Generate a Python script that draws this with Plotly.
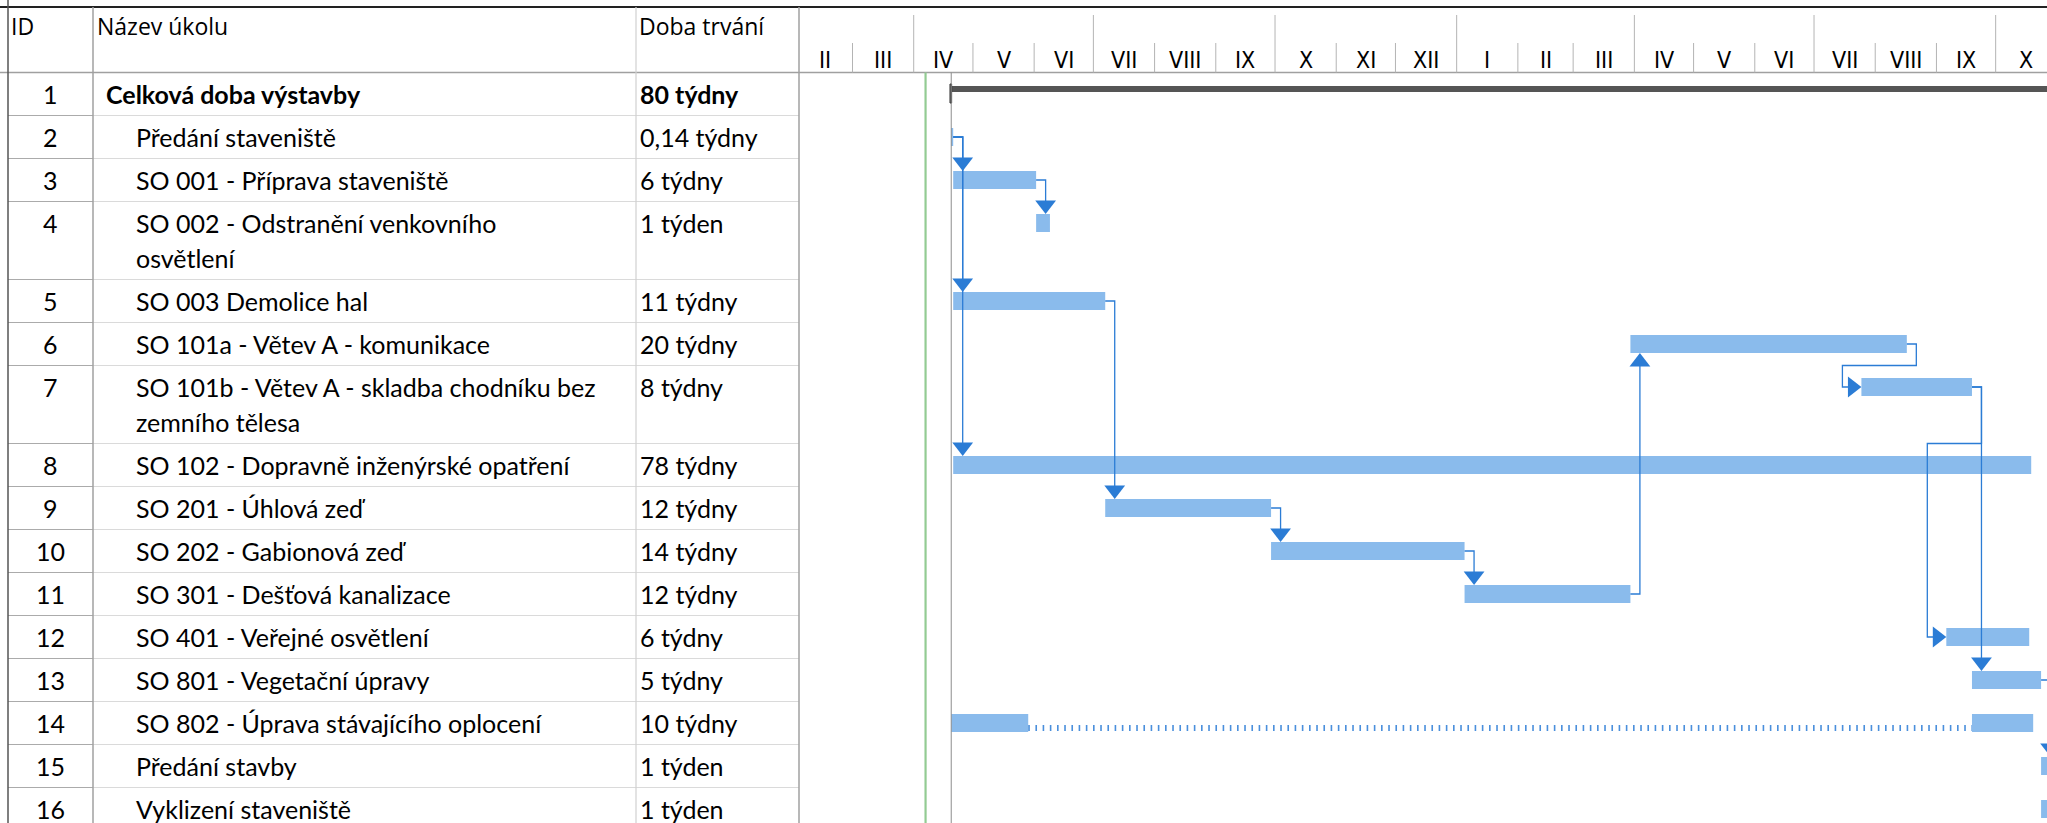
import plotly.graph_objects as go
import pandas as pd

# ---------------- data ----------------
task_ids = list(range(1, 17))
task_names = [
    "Celková doba výstavby",
    "Předání staveniště",
    "SO 001 - Příprava staveniště",
    "SO 002 - Odstranění venkovního\nosvětlení",
    "SO 003 Demolice hal",
    "SO 101a - Větev A - komunikace",
    "SO 101b - Větev A - skladba chodníku bez\nzemního tělesa",
    "SO 102 - Dopravně inženýrské opatření",
    "SO 201 - Úhlová zeď",
    "SO 202 - Gabionová zeď",
    "SO 301 - Dešťová kanalizace",
    "SO 401 - Veřejné osvětlení",
    "SO 801 - Vegetační úpravy",
    "SO 802 - Úprava stávajícího oplocení",
    "Předání stavby",
    "Vyklizení staveniště",
]
task_durations = ["80 týdny", "0,14 týdny", "6 týdny", "1 týden", "11 týdny", "20 týdny",
                  "8 týdny", "78 týdny", "12 týdny", "14 týdny", "12 týdny", "6 týdny",
                  "5 týdny", "10 týdny", "1 týden", "1 týden"]
task_starts = ["2026-04-20", "2026-04-20", "2026-04-21", "2026-06-02", "2026-04-21", "2027-03-30",
               "2027-07-25", "2026-04-21", "2026-07-07", "2026-09-29", "2027-01-05", "2027-09-06",
               "2027-09-19", None, "2027-10-24", "2027-10-24"]
task_days = [560, 1, 42, 7, 77, 140, 56, 546, 84, 98, 84, 42, 35, None, 7, 7]
summary_task = 1
split_task = 14
split_starts = ["2026-04-20", "2027-09-19"]
split_days = [39, 31]
links = [(2, 3), (2, 5), (2, 8), (3, 4), (5, 9), (9, 10), (10, 11), (11, 6),
         (6, 7), (7, 12), (7, 13), (13, 15)]
status_date = "2026-04-07"
project_start = "2026-04-20"
month_labels = ["I", "II", "III", "IV", "V", "VI", "VII", "VIII", "IX", "X", "XI", "XII"]
x_range = ["2026-02-01 21:36", "2027-10-27 00:00"]
header_labels = ["ID", "Název úkolu", "Doba trvání"]

# ---------------- layout constants ----------------
W, H = 2047, 823
TOP_LINE = 7
HEAD_BOT = 72.5
ROW_H = 43
LINE_H = 35
X_BORDER, X_ID, X_NAME, X_CHART = 8, 93, 636, 799
BAR_W = 18
BAR_OFF = 21.5
FONT = "Lato"
ROW_FS = 25
BAR_COLOR = "#8ABBEC"
LINK_COLOR = "#2B7CD5"
NARROW = "Liberation Sans Narrow, DejaVu Sans Condensed, Roboto Condensed, Liberation Sans"


def px(v):
    return v / W


row_lines = [len(n.split("\n")) for n in task_names]
row_top = []
y = HEAD_BOT
for n in row_lines:
    row_top.append(y)
    y += ROW_H + (n - 1) * LINE_H
row_bottom = [t + ROW_H + (n - 1) * LINE_H for t, n in zip(row_top, row_lines)]
bar_c = [t + BAR_OFF for t in row_top]

r0, r1 = pd.Timestamp(x_range[0]), pd.Timestamp(x_range[1])
PX_PER_DAY = (W - X_CHART) / ((r1 - r0).total_seconds() / 86400)


def shift(ts, pixels):
    return pd.Timestamp(ts) + pd.Timedelta(days=pixels / PX_PER_DAY)


fig = go.Figure()

# ---------------- task bars ----------------
bar_base, bar_len, bar_y = [], [], []
for i, tid in enumerate(task_ids):
    if tid == summary_task or tid == split_task:
        continue
    bar_base.append(task_starts[i])
    bar_len.append(task_days[i] * 86400000)
    bar_y.append(bar_c[i])
si = task_ids.index(split_task)
for s, d in zip(split_starts, split_days):
    bar_base.append(s)
    bar_len.append(d * 86400000)
    bar_y.append(bar_c[si])

fig.add_trace(go.Bar(orientation="h", base=bar_base, x=bar_len, y=bar_y, width=BAR_W,
                     marker=dict(color=BAR_COLOR, line=dict(width=0)), hoverinfo="skip",
                     showlegend=False))

# split dotted line
seg_end = pd.Timestamp(split_starts[0]) + pd.Timedelta(days=split_days[0])
fig.add_trace(go.Scatter(x=[seg_end, pd.Timestamp(split_starts[1])],
                         y=[bar_c[si] + 5, bar_c[si] + 5], mode="lines",
                         line=dict(color="#4A8FDC", width=6, dash="1.6px,5.6px"),
                         hoverinfo="skip", showlegend=False))

# summary bar
mi = task_ids.index(summary_task)
fig.add_trace(go.Bar(orientation="h", base=[task_starts[mi]], x=[task_days[mi] * 86400000],
                     y=[row_top[mi] + 16.5], width=6, marker=dict(color="#555555", line=dict(width=0)),
                     hoverinfo="skip", showlegend=False))
fig.add_trace(go.Bar(orientation="h", base=[shift(task_starts[mi], -1.2)],
                     x=[1.6 / PX_PER_DAY * 86400000],
                     y=[row_top[mi] + 21], width=19,
                     marker=dict(color="#6a6a6a", line=dict(width=1, color="#222222")),
                     hoverinfo="skip", showlegend=False))

# ---------------- links ----------------
lx, ly = [], []
ax, ay, asym = [], [], []
R = 9  # marker radius in px
for p, s in links:
    pi, sj = task_ids.index(p), task_ids.index(s)
    p_end = pd.Timestamp(task_starts[pi]) + pd.Timedelta(days=task_days[pi])
    s_start = pd.Timestamp(task_starts[sj])
    yp = bar_c[pi]
    if s_start >= p_end - pd.Timedelta(hours=12):
        xv = shift(p_end, 9.5)
        if sj > pi:
            yt = bar_c[sj] - BAR_W / 2
            lx += [p_end, xv, xv, None]
            ly += [yp, yp, yt - R, None]
            ax.append(xv); ay.append(yt - R); asym.append("triangle-down")
        else:
            yb = bar_c[sj] + BAR_W / 2
            lx += [p_end, xv, xv, None]
            ly += [yp, yp, yb + R, None]
            ax.append(xv); ay.append(yb + R); asym.append("triangle-up")
    else:
        xv = shift(p_end, 9.5)
        xl = shift(s_start, -19)
        xa = shift(s_start, -R)
        lx += [p_end, xv, xv, xl, xl, xa, None]
        ly += [yp, yp, row_bottom[pi], row_bottom[pi], bar_c[sj], bar_c[sj], None]
        ax.append(xa); ay.append(bar_c[sj]); asym.append("triangle-right")

fig.add_trace(go.Scatter(x=lx, y=ly, mode="lines", line=dict(color=LINK_COLOR, width=1.3),
                         hoverinfo="skip", showlegend=False))
fig.add_trace(go.Scatter(x=ax, y=ay, mode="markers",
                         marker=dict(symbol=asym, size=2 * R, color=LINK_COLOR, line=dict(width=0)),
                         hoverinfo="skip", showlegend=False))

# ---------------- shapes ----------------
shapes = []


def pline(x0, y0, x1, y1, color, width=1, xref="paper"):
    shapes.append(dict(type="line", xref=xref, yref="y", x0=x0, y0=y0, x1=x1, y1=y1,
                       line=dict(color=color, width=width), layer="above"))


# row lines
for b in row_bottom:
    pline(px(X_BORDER), b, px(X_ID), b, "#ABABAB", 1)
    pline(px(X_ID), b, px(X_CHART), b, "#DADADA", 1)
# header bottom, top line
pline(0, HEAD_BOT, 1, HEAD_BOT, "#A0A0A0", 1.5)
pline(0, TOP_LINE, 1, TOP_LINE, "#222222", 2)
# vertical table lines
pline(px(X_BORDER), 0, px(X_BORDER), H, "#555555", 1.5)
pline(px(X_ID), TOP_LINE, px(X_ID), H, "#A0A0A0", 1.5)
pline(px(X_NAME), TOP_LINE, px(X_NAME), H, "#D0D0D0", 1.2)
pline(px(X_CHART), TOP_LINE, px(X_CHART), H, "#A0A0A0", 1.5)

# timescale dividers
months = pd.date_range(r0.normalize() + pd.offsets.MonthBegin(0), r1, freq="MS")
for m in months:
    if m <= r0:
        continue
    if m.month in (1, 4, 7, 10):
        pline(m, 15, m, HEAD_BOT, "#B4B4B4", 1, xref="x")
    else:
        pline(m, 43, m, HEAD_BOT, "#B4B4B4", 1, xref="x")

# status line and project start line
pline(pd.Timestamp(status_date), HEAD_BOT, pd.Timestamp(status_date), H, "#93CB93", 2.2, xref="x")
pline(pd.Timestamp(project_start), HEAD_BOT, pd.Timestamp(project_start), H, "#8C8C8C", 1, xref="x")

# ---------------- annotations ----------------
ann = []


def text(x, yv, t, size=ROW_FS, bold=False, anchor="left", family=FONT, color="#000000", xref="paper"):
    ann.append(dict(x=x, y=yv, xref=xref, yref="y", text=("<b>%s</b>" % t) if bold else t,
                    showarrow=False, xanchor=anchor, yanchor="middle",
                    font=dict(family=family, size=size, color=color)))


# header
text(px(X_BORDER + 1), 26, header_labels[0], size=23, family="Open Sans")
text(px(X_ID + 2), 26, header_labels[1], size=23, family="Open Sans")
text(px(X_NAME + 1), 26, header_labels[2], size=23, family="Open Sans")

# month labels
for m in pd.date_range(r0.normalize() + pd.offsets.MonthBegin(0) - pd.offsets.MonthBegin(1), r1, freq="MS"):
    mid = m + (m + pd.offsets.MonthBegin(1) - m) / 2
    if mid < r0 or mid > r1:
        continue
    text(mid, 60, month_labels[m.month - 1], size=23, anchor="center", family=NARROW, xref="x")

# rows
for i, tid in enumerate(task_ids):
    yc = row_top[i] + BAR_OFF
    text(px((X_BORDER + X_ID) / 2), yc, str(tid), anchor="center")
    bold = tid == summary_task
    xname = X_ID + 11 if bold else X_ID + 41
    for k, line in enumerate(task_names[i].split("\n")):
        text(px(xname), yc + k * LINE_H, line, bold=bold)
    text(px(X_NAME + 2), yc, task_durations[i], bold=bold)

fig.update_layout(
    width=W, height=H, margin=dict(l=0, r=0, t=0, b=0),
    paper_bgcolor="white", plot_bgcolor="white",
    shapes=shapes, annotations=ann, barmode="overlay",
    xaxis=dict(type="date", range=x_range, domain=[X_CHART / W, 1], showgrid=False,
               showticklabels=False, zeroline=False, showline=False, ticks=""),
    yaxis=dict(range=[H, 0], domain=[0, 1], showgrid=False, showticklabels=False,
               zeroline=False, showline=False),
    showlegend=False,
)

fig.write_html("out.html", config={"displayModeBar": False},
               post_script="document.body.style.margin='0';document.body.style.overflow='hidden';")
